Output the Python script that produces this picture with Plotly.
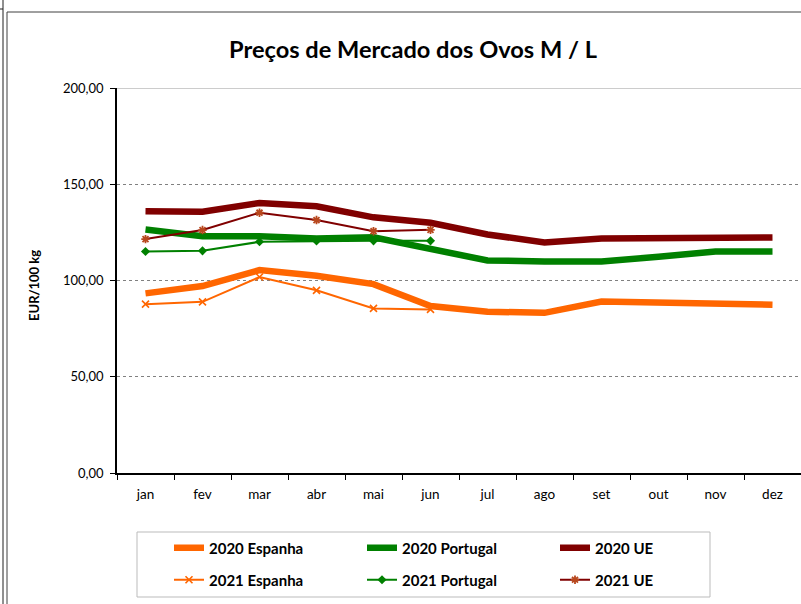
import plotly.graph_objects as go

months = ["jan", "fev", "mar", "abr", "mai", "jun", "jul", "ago", "set", "out", "nov", "dez"]

es_2020 = [93.3, 97.1, 105.4, 102.5, 98.1, 86.7, 83.8, 83.2, 89.1, 88.6, 88.3, 87.4]
pt_2020 = [126.5, 123.0, 123.0, 121.8, 122.4, 116.6, 110.4, 109.9, 109.9, 112.3, 115.1, 115.1]
ue_2020 = [136.0, 135.7, 140.3, 138.6, 132.8, 130.0, 123.9, 119.8, 121.8, 121.8, 122.4, 122.4]

es_2021 = [87.7, 88.9, 101.8, 94.9, 85.5, 85.0]
pt_2021 = [115.1, 115.4, 120.1, 120.5, 120.6, 120.6]
ue_2021 = [121.5, 126.2, 135.2, 131.4, 125.6, 126.3]

ORANGE = "#FF6600"
GREEN = "#008000"
DARKRED = "#800000"
FONT = "Lato"

fig = go.Figure()

for name, vals, col in [("2020 Espanha", es_2020, ORANGE),
                        ("2020 Portugal", pt_2020, GREEN),
                        ("2020 UE", ue_2020, DARKRED)]:
    fig.add_trace(go.Scatter(x=months[:len(vals)], y=vals, name=name, mode="lines",
                             line=dict(color=col, width=6.5), legend="legend"))

fig.add_trace(go.Scatter(x=months[:len(es_2021)], y=es_2021, name="2021 Espanha", mode="lines+markers",
                         line=dict(color=ORANGE, width=2),
                         marker=dict(symbol="x-thin-open", size=7, color=ORANGE, line=dict(width=1.6, color=ORANGE)),
                         legend="legend2"))
fig.add_trace(go.Scatter(x=months[:len(pt_2021)], y=pt_2021, name="2021 Portugal", mode="lines+markers",
                         line=dict(color=GREEN, width=2),
                         marker=dict(symbol="diamond", size=7, color=GREEN),
                         legend="legend2"))
fig.add_trace(go.Scatter(x=months[:len(ue_2021)], y=ue_2021, name="2021 UE", mode="lines+markers",
                         line=dict(color=DARKRED, width=2),
                         marker=dict(symbol="asterisk-open", size=7, color="#B8481E", line=dict(width=1.8, color="#B8481E")),
                         legend="legend2"))

L, T, B = 117, 88, 473
W, H = 801, 604
PW, PH = W - L, B - T


def px(x):
    return (x - L) / PW


def py(y):
    return (B - y) / PH


legend_common = dict(orientation="h", xref="container", yref="container", xanchor="left", yanchor="middle",
                     bgcolor="rgba(0,0,0,0)", borderwidth=0, entrywidth=148, entrywidthmode="pixels",
                     font=dict(family=FONT, size=15, color="black", weight="bold"), itemclick=False)

shapes = [
    # legend box
    dict(type="rect", xref="paper", yref="paper", x0=px(137), x1=px(710), y0=py(597), y1=py(532),
         line=dict(color="#BBBBBB", width=1), fillcolor="white", layer="below"),
    # top gridline (200,00)
    dict(type="line", xref="paper", yref="y", x0=0, x1=1, y0=200, y1=200,
         line=dict(color="#9A9A9A", width=1)),
    # outer chart frame
    dict(type="line", xref="paper", yref="paper", x0=px(7), x1=px(820), y0=py(12), y1=py(12),
         line=dict(color="#404040", width=1)),
    dict(type="line", xref="paper", yref="paper", x0=px(7), x1=px(7), y0=py(12), y1=py(620),
         line=dict(color="#404040", width=1)),
    # spreadsheet cell borders at far left
    dict(type="line", xref="paper", yref="paper", x0=px(3), x1=px(3), y0=py(-5), y1=py(620),
         line=dict(color="#202020", width=1)),
    dict(type="line", xref="paper", yref="paper", x0=px(-5), x1=px(3), y0=py(9), y1=py(9),
         line=dict(color="#202020", width=1)),
]

fig.update_layout(
    width=W, height=H,
    margin=dict(l=L, r=0, t=T, b=H - B, pad=0),
    paper_bgcolor="white", plot_bgcolor="white",
    separators=",.",
    font=dict(family=FONT, size=13, color="black"),
    title=dict(text="<b>Preços de Mercado dos Ovos M / L</b>", x=413 / W, xanchor="center",
               y=1 - 50 / H, yanchor="middle", xref="container", yref="container",
               font=dict(family=FONT, size=23.6, color="black")),
    xaxis=dict(type="category", categoryorder="array", categoryarray=months, range=[-0.5, 11.5],
               showline=True, linecolor="black", linewidth=1.5, ticks="outside", ticklen=5,
               tickcolor="black", tickson="boundaries", showgrid=False, zeroline=False,
               ticklabelstandoff=8,
               tickfont=dict(family=FONT, size=13.5, color="black")),
    yaxis=dict(range=[0, 200], dtick=50, tickformat=".2f", showline=True, linecolor="black",
               linewidth=1.5, ticks="outside", ticklen=5, tickcolor="black", showgrid=True,
               gridcolor="#808080", griddash="dot", gridwidth=1, zeroline=False,
               ticklabelstandoff=4,
               tickfont=dict(family=FONT, size=13, color="black")),
    legend=dict(x=169 / W, y=1 - 548 / H, **legend_common),
    legend2=dict(x=169 / W, y=1 - 580 / H, **legend_common),
    shapes=shapes,
    annotations=[dict(text="<b>EUR/100 kg</b>", xref="paper", yref="paper", x=px(34), y=py(286),
                      xanchor="center", yanchor="middle",
                      showarrow=False, textangle=-90, font=dict(family=FONT, size=13, color="black"))],
)

fig.write_html("out.html", config={"displayModeBar": False},
               post_script="document.body.style.margin='0';")
